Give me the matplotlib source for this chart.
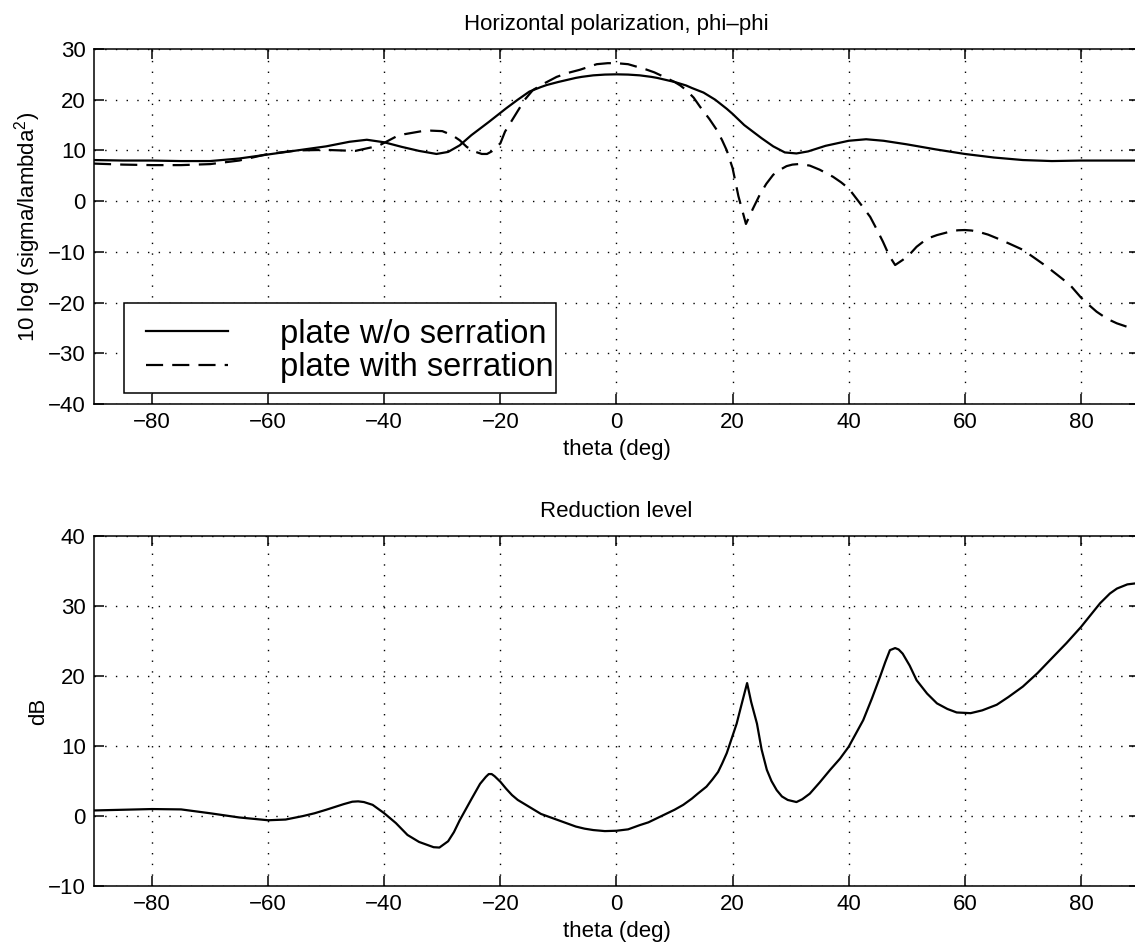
"""Scattering pattern of a plate with and without edge serration."""

import matplotlib

matplotlib.use("Agg")

import matplotlib.pyplot as plt
from matplotlib.patches import Rectangle

# top panel: horizontal polarization, phi-phi (dB)
theta_plain = [-90, -85, -80, -75, -70, -65, -60, -55, -50, -46, -43, -40, -37, -34,
               -31, -29, -27, -25, -22, -20, -19, -17, -15, -13, -12, -10, -7, -6,
               -4, -2, 0, 2, 4, 6, 7, 10, 12, 13, 15, 17, 19, 20, 22, 25, 27, 29, 31,
               33, 36, 40, 43, 46, 50, 55, 60, 65, 70, 75, 80, 85, 90]
rcs_plain = [8.1, 8.0, 8.0, 7.9, 7.9, 8.4, 9.2, 10.0, 10.8, 11.7, 12.1, 11.6, 10.7, 9.9,
             9.3, 9.7, 11.0, 13.0, 15.6, 17.4, 18.3, 20.0, 21.6, 22.5, 22.9, 23.5, 24.3,
             24.5, 24.8, 24.95, 25.0, 24.95, 24.8, 24.5, 24.3, 23.5, 22.8, 22.3, 21.4,
             20.0, 18.2, 17.2, 15.0, 12.4, 10.8, 9.6, 9.4, 9.8, 10.9, 11.9, 12.2, 11.9,
             11.2, 10.2, 9.3, 8.6, 8.1, 7.9, 8.0, 8.0, 8.0]

theta_serr = [-90, -85, -80, -75, -70, -65, -60, -55, -50, -45, -41, -38, -36.5, -35,
              -33.5, -32, -30, -28.3, -27, -25.8, -24.5, -23.2, -22.3, -21.5, -20,
              -19.2, -17.1, -15.8, -14.4, -12.3, -10.3, -8.3, -6.3, -3.4, -1.5, 0, 1,
              2, 3.5, 5, 6.5, 8, 10, 11, 12, 13.3, 14.4, 15.2, 16, 17.3, 18.2, 19, 20,
              21, 22.3, 23.5, 24.7, 25.8, 27, 28.2, 29.3, 30.3, 31.3, 32.3, 33.3, 35,
              37.3, 38.7, 40, 42, 43.7, 44.8, 45.9, 47, 48, 49.3, 50.5, 51.7, 53.5,
              55.2, 57.5, 58.8, 60, 61.2, 62.5, 64, 65.5, 67.7, 70, 72, 74.1, 76,
              78.1, 80, 81.3, 82.7, 84.5, 86.2, 88, 90]
rcs_serr = [7.4, 7.2, 7.1, 7.1, 7.3, 8.0, 9.3, 10.0, 10.1, 9.9, 10.9, 12.7, 13.2, 13.5,
            13.8, 13.9, 13.8, 13.0, 12.0, 10.7, 9.8, 9.3, 9.3, 9.8, 11.4,
            13.7, 17.6, 20.0, 21.9, 23.3, 24.5, 25.3, 25.9, 27.0, 27.2, 27.2, 27.1,
            27.0, 26.5, 26.0, 25.4, 24.6, 23.5, 22.8, 21.9, 20.4, 18.6, 17.4, 16.2,
            14.0, 12.0, 10.0, 6.5, 1.0, -4.5, -1.5, 1.3, 3.4, 5.2, 6.2, 6.9, 7.2, 7.3,
            7.2, 7.0, 6.2, 4.8, 3.7, 2.5, -0.5, -3.1, -5.5, -8.0, -10.8, -12.6, -11.6,
            -10.5, -9.0, -7.4, -6.7, -6.0, -5.75, -5.7, -5.8, -6.1, -6.6, -7.3, -8.4,
            -9.6, -11.2, -12.9, -14.6, -16.5, -19.0, -20.4, -21.8, -23.2, -24.1,
            -24.8, -25.3]

# bottom panel: reduction level (dB)
theta_red = [-90, -85, -80, -75, -70, -65, -60, -57, -54, -52, -50, -47, -45.5, -44.5,
             -43.5, -42, -41, -40, -38, -36, -34, -32, -31.5, -30.5, -29, -28, -27,
             -26, -25, -23.5, -22.5, -22, -21.5, -21, -20, -19, -18, -17, -15, -13,
             -10, -7, -5.5, -4, -2, 0, 2, 4, 5.5, 7, 8.5, 10, 11.5, 13, 14, 15.5,
             16.5, 17.5, 18.2, 19, 20.7, 21.5, 22.5, 23.2, 24.2, 25, 25.9, 26.7, 27.6,
             28.5, 29.5, 31, 32, 33.3, 35, 36.8, 38.5, 40, 42.5, 44, 45.4, 46.3, 47.1,
             48, 48.6, 49.3, 50.5, 51.7, 53.5, 55.2, 57, 58.6, 61, 63, 65.5, 67.5, 70,
             72.5, 74.7, 77.5, 80, 83.3, 85, 86.2, 88, 90]
reduction = [0.8, 0.9, 1.0, 0.95, 0.4, -0.2, -0.6, -0.5, 0.0, 0.4, 0.9, 1.7, 2.05, 2.1,
             2.0, 1.6, 1.0, 0.4, -1.0, -2.7, -3.7, -4.3, -4.45, -4.5, -3.6, -2.3, -0.6,
             0.9, 2.4, 4.6, 5.6, 6.0, 6.0, 5.7, 4.9, 3.9, 3.0, 2.3, 1.3, 0.3,
             -0.6, -1.5, -1.8, -2.0, -2.15, -2.1, -1.9, -1.3, -0.9, -0.3, 0.3, 0.9, 1.6,
             2.5, 3.2, 4.2, 5.2, 6.3, 7.5, 9.0, 13.2, 15.8, 19.0, 16.3, 13.2, 9.5, 6.6,
             5.0, 3.7, 2.8, 2.3, 2.0, 2.4, 3.2, 4.8, 6.6, 8.2, 9.9, 13.7, 16.8, 19.9,
             22.0, 23.7, 24.0, 23.8, 23.2, 21.5, 19.4, 17.5, 16.1, 15.3, 14.8, 14.7,
             15.1, 15.9, 17.0, 18.5, 20.4, 22.3, 24.7, 27.0, 30.4, 31.8, 32.5, 33.1,
             33.3]

x_ticks = [-80, -60, -40, -20, 0, 20, 40, 60, 80]

plt.rcParams["font.family"] = ["Liberation Sans", "DejaVu Sans"]
plt.rcParams["mathtext.fontset"] = "custom"
plt.rcParams["mathtext.rm"] = "Liberation Sans"
plt.rcParams["mathtext.it"] = "Liberation Sans"

FS = 16
LW = 1.6
DASH = (7.7, 4.1)


def style_axes(ax, ylim, yticks):
    ax.set_xlim(-90, 90)
    ax.set_ylim(*ylim)
    ax.set_xticks(x_ticks)
    ax.set_yticks(yticks)
    ax.tick_params(direction="in", length=7.5, width=1.1, top=True, right=True,
                   labelsize=FS, pad=6)
    ax.grid(True, color="black", linestyle=(0, (1, 6.7)), linewidth=1.0)
    for spine in ax.spines.values():
        spine.set_linewidth(1.1)


fig = plt.figure(figsize=(11.35, 9.51), dpi=100)
ax1 = fig.add_axes([0.0828, 0.5752, 0.9207, 0.3733])
ax2 = fig.add_axes([0.0828, 0.0683, 0.9207, 0.3680])

ax1.plot(theta_plain, rcs_plain, color="black", linewidth=LW, label="plate w/o serration")
ax1.plot(theta_serr, rcs_serr, color="black", linewidth=LW, dashes=DASH,
         label="plate with serration")
style_axes(ax1, (-40, 30), range(-40, 31, 10))
ax1.set_title("Horizontal polarization, phi\u2013phi", fontsize=FS, pad=13.5)
ax1.set_xlabel("theta (deg)", fontsize=FS, labelpad=4)
ax1.set_ylabel("10 log (sigma/lambda$^2$)", fontsize=FS)
ax1.yaxis.set_label_coords(-0.049, 0.5)

# legend frame drawn separately: the MATLAB box has a wide left margin
ax1.add_patch(Rectangle((0.0287, 0.031), 0.4134, 0.2535, transform=ax1.transAxes,
                        facecolor="white", edgecolor="black", linewidth=1.1, zorder=4))
leg = ax1.legend(loc="upper left", bbox_to_anchor=(0.0498, 0.240), borderaxespad=0,
                 fontsize=23.5, frameon=False, handlelength=2.5, handletextpad=1.6,
                 labelspacing=0.07, borderpad=0)
leg.set_zorder(5)

ax2.plot(theta_red, reduction, color="black", linewidth=LW)
style_axes(ax2, (-10, 40), range(-10, 41, 10))
ax2.set_title("Reduction level", fontsize=FS, pad=14)
ax2.set_xlabel("theta (deg)", fontsize=FS, labelpad=4)
ax2.set_ylabel("dB", fontsize=FS)
ax2.yaxis.set_label_coords(-0.043, 0.5)

fig.savefig("out.png", dpi=100)
plt.close(fig)
